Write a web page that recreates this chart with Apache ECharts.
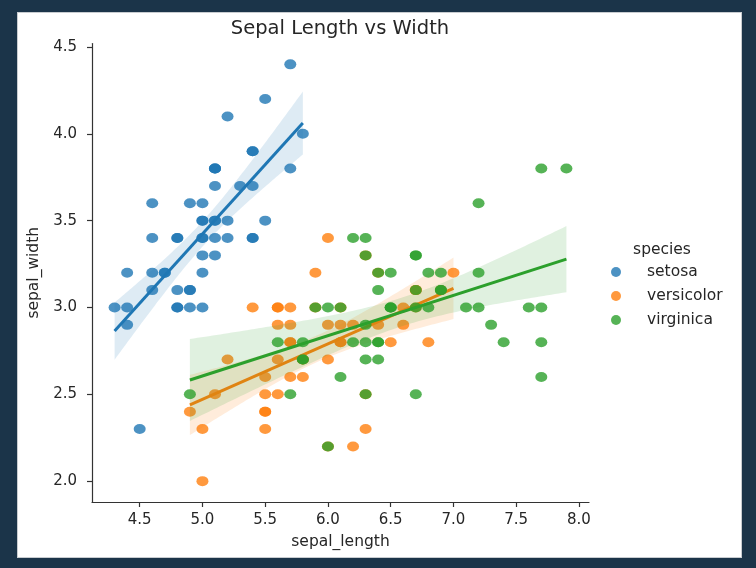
<!DOCTYPE html>
<html>
<head>
<meta charset="utf-8">
<script src="https://cdn.jsdelivr.net/npm/echarts@6/dist/echarts.min.js"></script>
<style>
  html, body { margin: 0; padding: 0; background: #1b3449; }
  #panel { position: absolute; left: 17px; top: 12px; width: 725px; height: 546px; background: #ffffff; border: 1px solid #c8ccd0; box-sizing: border-box; }
  #chart { position: absolute; left: 0; top: 0; width: 756px; height: 568px; }
</style>
</head>
<body>
<div id="panel"></div>
<div id="chart"></div>
<script>
const speciesNames = ['setosa', 'versicolor', 'virginica'];
const speciesColors = ['#1f77b4', '#ff7f0e', '#2ca02c'];

const setosaLength = [5.1,4.9,4.7,4.6,5.0,5.4,4.6,5.0,4.4,4.9,5.4,4.8,4.8,4.3,5.8,5.7,5.4,5.1,5.7,5.1,5.4,5.1,4.6,5.1,4.8,5.0,5.0,5.2,5.2,4.7,4.8,5.4,5.2,5.5,4.9,5.0,5.5,4.9,4.4,5.1,5.0,4.5,4.4,5.0,5.1,4.8,5.1,4.6,5.3,5.0];
const setosaWidth  = [3.5,3.0,3.2,3.1,3.6,3.9,3.4,3.4,2.9,3.1,3.7,3.4,3.0,3.0,4.0,4.4,3.9,3.5,3.8,3.8,3.4,3.7,3.6,3.3,3.4,3.0,3.4,3.5,3.4,3.2,3.1,3.4,4.1,4.2,3.1,3.2,3.5,3.6,3.0,3.4,3.5,2.3,3.2,3.5,3.8,3.0,3.8,3.2,3.7,3.3];

const versicolorLength = [7.0,6.4,6.9,5.5,6.5,5.7,6.3,4.9,6.6,5.2,5.0,5.9,6.0,6.1,5.6,6.7,5.6,5.8,6.2,5.6,5.9,6.1,6.3,6.1,6.4,6.6,6.8,6.7,6.0,5.7,5.5,5.5,5.8,6.0,5.4,6.0,6.7,6.3,5.6,5.5,5.5,6.1,5.8,5.0,5.6,5.7,5.7,6.2,5.1,5.7];
const versicolorWidth  = [3.2,3.2,3.1,2.3,2.8,2.8,3.3,2.4,2.9,2.7,2.0,3.0,2.2,2.9,2.9,3.1,3.0,2.7,2.2,2.5,3.2,2.8,2.5,2.8,2.9,3.0,2.8,3.0,2.9,2.6,2.4,2.4,2.7,2.7,3.0,3.4,3.1,2.3,3.0,2.5,2.6,3.0,2.6,2.3,2.7,3.0,2.9,2.9,2.5,2.8];

const virginicaLength = [6.3,5.8,7.1,6.3,6.5,7.6,4.9,7.3,6.7,7.2,6.5,6.4,6.8,5.7,5.8,6.4,6.5,7.7,7.7,6.0,6.9,5.6,7.7,6.3,6.7,7.2,6.2,6.1,6.4,7.2,7.4,7.9,6.4,6.3,6.1,7.7,6.3,6.4,6.0,6.9,6.7,6.9,5.8,6.8,6.7,6.7,6.3,6.5,6.2,5.9];
const virginicaWidth  = [3.3,2.7,3.0,2.9,3.0,3.0,2.5,2.9,2.5,3.6,3.2,2.7,3.0,2.5,2.8,3.2,3.0,3.8,2.6,2.2,3.2,2.8,2.8,2.7,3.3,3.2,2.8,3.0,2.8,3.0,2.8,3.8,2.8,2.8,2.6,3.0,3.4,3.1,3.0,3.1,3.1,3.1,2.7,3.2,3.3,3.0,2.5,3.0,3.4,3.0];

const xTicks = [4.5, 5.0, 5.5, 6.0, 6.5, 7.0, 7.5, 8.0];
const yTicks = [2.0, 2.5, 3.0, 3.5, 4.0, 4.5];

const groups = [
  [setosaLength, setosaWidth],
  [versicolorLength, versicolorWidth],
  [virginicaLength, virginicaWidth]
];

// Ordinary least squares fit with analytic 95% confidence band (regplot-style)
function fitLine(xs, ys) {
  const n = xs.length;
  const mx = xs.reduce((a, b) => a + b, 0) / n;
  const my = ys.reduce((a, b) => a + b, 0) / n;
  let sxx = 0, sxy = 0;
  for (let i = 0; i < n; i++) { sxx += (xs[i] - mx) ** 2; sxy += (xs[i] - mx) * (ys[i] - my); }
  const b = sxy / sxx, a = my - b * mx;
  let sse = 0;
  for (let i = 0; i < n; i++) sse += (ys[i] - a - b * xs[i]) ** 2;
  const s = Math.sqrt(sse / (n - 2));
  const t = 2.0106;
  const lo = Math.min(...xs), hi = Math.max(...xs);
  const band = [];
  const steps = 100;
  for (let k = 0; k < steps; k++) {
    const x = lo + (hi - lo) * k / (steps - 1);
    const yh = a + b * x;
    const se = s * Math.sqrt(1 / n + (x - mx) ** 2 / sxx);
    band.push([x, yh - t * se, yh + t * se]);
  }
  return { line: [[lo, a + b * lo], [hi, a + b * hi]], band };
}

const FONT = 'DejaVu Sans';
const TXT = '#262626';
const series = [];
groups.forEach((g, i) => {
  const pts = g[0].map((x, j) => [x, g[1][j]]);
  const fit = fitLine(g[0], g[1]);
  const color = speciesColors[i];
  series.push({
    name: speciesNames[i], type: 'scatter', data: pts,
    symbol: 'circle', symbolSize: [12, 10],
    itemStyle: { color: color, opacity: 0.8 },
    z: 2 + i * 3
  });
  const band = fit.band;
  series.push({
    name: speciesNames[i] + ' ci', type: 'custom', data: band,
    encode: { x: 0, y: [1, 2] }, silent: true,
    renderItem: function (params, api) {
      if (params.dataIndex !== 0) return null;
      const up = band.map(p => api.coord([p[0], p[2]]));
      const dn = band.slice().reverse().map(p => api.coord([p[0], p[1]]));
      return { type: 'polygon', shape: { points: up.concat(dn) }, style: { fill: color, opacity: 0.15 } };
    },
    z: 3 + i * 3
  });
  series.push({
    name: speciesNames[i] + ' fit', type: 'line', data: fit.line,
    showSymbol: false, silent: true,
    lineStyle: { color: color, width: 3 },
    z: 4 + i * 3
  });
});

const chart = echarts.init(document.getElementById('chart'), null, { renderer: 'canvas' });
chart.setOption({
  backgroundColor: 'transparent',
  animation: false,
  textStyle: { fontFamily: FONT },
  grid: { left: 92, top: 43.5, width: 497, height: 458.5, containLabel: false },
  xAxis: {
    type: 'value', min: 4.12, max: 8.08,
    name: 'sepal_length', nameLocation: 'middle', nameGap: 32,
    nameTextStyle: { fontSize: 15.5, color: TXT, fontFamily: FONT },
    splitLine: { show: false },
    axisLine: { lineStyle: { color: '#333', width: 1.2 } },
    axisTick: { show: true, customValues: xTicks, length: 5, lineStyle: { color: '#333', width: 1.2 } },
    axisLabel: { customValues: xTicks, formatter: v => v.toFixed(1), fontSize: 15, color: TXT, margin: 11, fontFamily: FONT }
  },
  yAxis: {
    type: 'value', min: 1.88, max: 4.52,
    name: 'sepal_width', nameLocation: 'middle', nameGap: 48, nameRotate: 90,
    nameTextStyle: { fontSize: 15.5, color: TXT, fontFamily: FONT },
    splitLine: { show: false },
    axisLine: { lineStyle: { color: '#333', width: 1.2 } },
    axisTick: { show: true, customValues: yTicks, length: 5, lineStyle: { color: '#333', width: 1.2 } },
    axisLabel: { customValues: yTicks, formatter: v => v.toFixed(1), fontSize: 15, color: TXT, margin: 15, fontFamily: FONT }
  },
  legend: {
    data: speciesNames, orient: 'vertical', left: 611, top: 264, padding: 0,
    icon: 'circle', itemWidth: 12, itemHeight: 10, itemGap: 8,
    itemStyle: { opacity: 0.8 },
    textStyle: { fontSize: 15.5, color: TXT, fontFamily: FONT, padding: [0, 0, 0, 20] },
    selectedMode: false
  },
  graphic: [
    { type: 'text', x: 340, y: 29, style: { text: 'Sepal Length vs Width', font: '19.5px "DejaVu Sans"', fill: TXT, align: 'center', verticalAlign: 'middle' } },
    { type: 'text', x: 662, y: 250, style: { text: 'species', font: '15.5px "DejaVu Sans"', fill: TXT, align: 'center', verticalAlign: 'middle' } }
  ],
  series: series
});
</script>
</body>
</html>
